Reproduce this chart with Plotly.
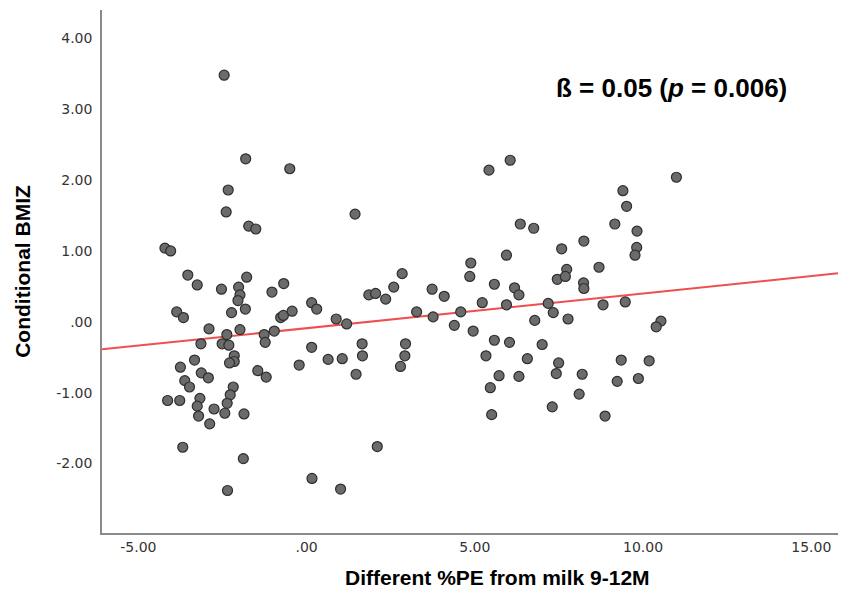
import plotly.graph_objects as go

# Difference in %PE from milk (9-12M) vs conditional BMIZ
pe_diff = [
    -2.45, -1.81, -0.50, -2.33, -2.39, -1.72, -1.51, -4.21, -4.04, -3.53,
    -3.25, -1.78, -2.53, -2.02, -1.98, -2.04, -1.03, -0.68, -3.86, -3.66,
    -2.23, -1.82, -2.90, -2.37, -1.98, -3.14, -2.51, -2.31, -1.26, -1.23,
    -0.96, -0.77, -0.69, -0.43, 0.15, 0.30, 0.15, 0.64, -0.22, -2.15,
    -2.15, -2.29, -3.33, -3.75, -3.13, -2.92, -1.45, -1.20, -3.62, -3.48,
    -2.18, -2.27, -2.36, -4.13, -3.77, -3.17, -3.25, -3.21, -2.75, -2.43,
    -1.86, -2.88, -3.68, -1.88, 0.16, -2.35,
    5.42, 6.05, 1.44, 5.94, 4.88, 4.85, 5.58, 2.84, 2.59, 1.85,
    2.05, 2.35, 3.73, 4.09, 5.22, 5.94, 3.27, 3.76, 4.58, 0.88,
    1.19, 4.39, 4.95, 5.58, 6.03, 1.65, 2.94, 1.66, 2.92, 1.06,
    5.33, 2.79, 1.47, 5.72, 5.46, 5.50, 2.10, 1.01,
    10.99, 9.40, 9.51, 6.35, 6.75, 9.16, 9.82, 8.24, 7.58, 9.81,
    9.76, 7.73, 8.69, 7.45, 7.69, 8.23, 8.24, 6.18, 6.31, 7.18,
    8.81, 9.47, 7.33, 6.78, 7.77, 10.53, 10.39, 7.00, 6.56, 7.49,
    7.42, 8.19, 6.31, 9.35, 10.18, 9.23, 9.86, 8.10, 7.30, 8.87,
]
bmiz = [
    3.48, 2.30, 2.16, 1.86, 1.55, 1.35, 1.31, 1.04, 1.00, 0.66,
    0.52, 0.63, 0.46, 0.49, 0.38, 0.30, 0.42, 0.54, 0.14, 0.06,
    0.13, 0.18, -0.10, -0.18, -0.11, -0.31, -0.31, -0.33, -0.18, -0.29,
    -0.13, 0.06, 0.09, 0.15, 0.27, 0.18, -0.36, -0.53, -0.61, -0.48,
    -0.56, -0.58, -0.54, -0.64, -0.72, -0.79, -0.69, -0.78, -0.83, -0.92,
    -0.92, -1.03, -1.15, -1.11, -1.11, -1.08, -1.19, -1.33, -1.23, -1.29,
    -1.30, -1.44, -1.77, -1.93, -2.21, -2.38,
    2.14, 2.28, 1.52, 0.94, 0.83, 0.64, 0.53, 0.68, 0.49, 0.38,
    0.40, 0.32, 0.46, 0.36, 0.27, 0.24, 0.14, 0.07, 0.14, 0.04,
    -0.03, -0.05, -0.13, -0.26, -0.29, -0.31, -0.31, -0.48, -0.48, -0.52,
    -0.48, -0.63, -0.74, -0.76, -0.93, -1.31, -1.76, -2.36,
    2.04, 1.85, 1.63, 1.38, 1.32, 1.38, 1.28, 1.14, 1.03, 1.05,
    0.94, 0.74, 0.77, 0.60, 0.64, 0.55, 0.47, 0.48, 0.38, 0.26,
    0.24, 0.28, 0.13, 0.02, 0.04, 0.01, -0.07, -0.32, -0.52, -0.58,
    -0.73, -0.74, -0.77, -0.54, -0.55, -0.84, -0.80, -1.02, -1.20, -1.33,
]

# Fitted regression line
fit_intercept = -0.09
fit_slope = 0.049

x_range = [-6.08, 16.03]
y_range = [-2.98, 4.40]

x_tickvals = [-5, 0, 5, 10, 15]
x_ticktext = ["-5.00", ".00", "5.00", "10.00", "15.00"]
y_tickvals = [-3, -2, -1, 0, 1, 2, 3, 4]
y_ticktext = ["-3.00", "-2.00", "-1.00", ".00", "1.00", "2.00", "3.00", "4.00"]

x_title = "Different %PE from milk 9-12M"
y_title = "Conditional BMIZ"
stat_text = "<b>ß = 0.05 (<i>p</i> = 0.006)</b>"

fit_x = x_range
fit_y = [fit_intercept + fit_slope * v for v in fit_x]

fig = go.Figure()
fig.add_trace(go.Scatter(
    x=fit_x, y=fit_y, mode="lines",
    line=dict(color="#ef4f4f", width=2),
    hoverinfo="skip", showlegend=False,
))
fig.add_trace(go.Scatter(
    x=pe_diff, y=bmiz, mode="markers",
    marker=dict(size=10, color="#6b6b6b", line=dict(color="#2e2e2e", width=1.2)),
    showlegend=False,
))

fig.add_annotation(
    x=10.83, y=3.30, xref="x", yref="y",
    text=stat_text, showarrow=False, xanchor="center", yanchor="middle",
    font=dict(family="Liberation Sans, Arial, sans-serif", size=26, color="#000000"),
)

# x-axis title (sits right of the visible plot centre, as in the cropped original)
fig.add_annotation(
    x=0.5316, y=-0.086, xref="paper", yref="paper",
    text="<b>" + x_title + "</b>", showarrow=False,
    xanchor="center", yanchor="middle",
    font=dict(family="Liberation Sans, Arial, sans-serif", size=21, color="#000000"),
)

axis_common = dict(
    showgrid=False, zeroline=False, showline=True,
    linecolor="#8a8a8a", linewidth=1.5, ticks="", automargin=False,
    tickfont=dict(family="DejaVu Sans, Verdana, sans-serif", size=14, color="#333333"),
)

# the page body adds an 8px offset; sizes/margins compensate so the plot area
# sits at x 102.., y 10..533 in the browser window without scrollbars
fig.update_layout(
    width=838, height=581,
    margin=dict(l=94, r=0, t=2, b=56),
    paper_bgcolor="white", plot_bgcolor="white",
    xaxis=dict(
        range=x_range, tickmode="array", tickvals=x_tickvals, ticktext=x_ticktext,
        **axis_common,
    ),
    yaxis=dict(
        range=y_range, tickmode="array", tickvals=y_tickvals, ticktext=y_ticktext,
        title=dict(text="<b>" + y_title + "</b>", standoff=20,
                   font=dict(family="Liberation Sans, Arial, sans-serif", size=21, color="#000000")),
        ticklabelstandoff=5,
        **axis_common,
    ),
)

fig.write_html("out.html")
